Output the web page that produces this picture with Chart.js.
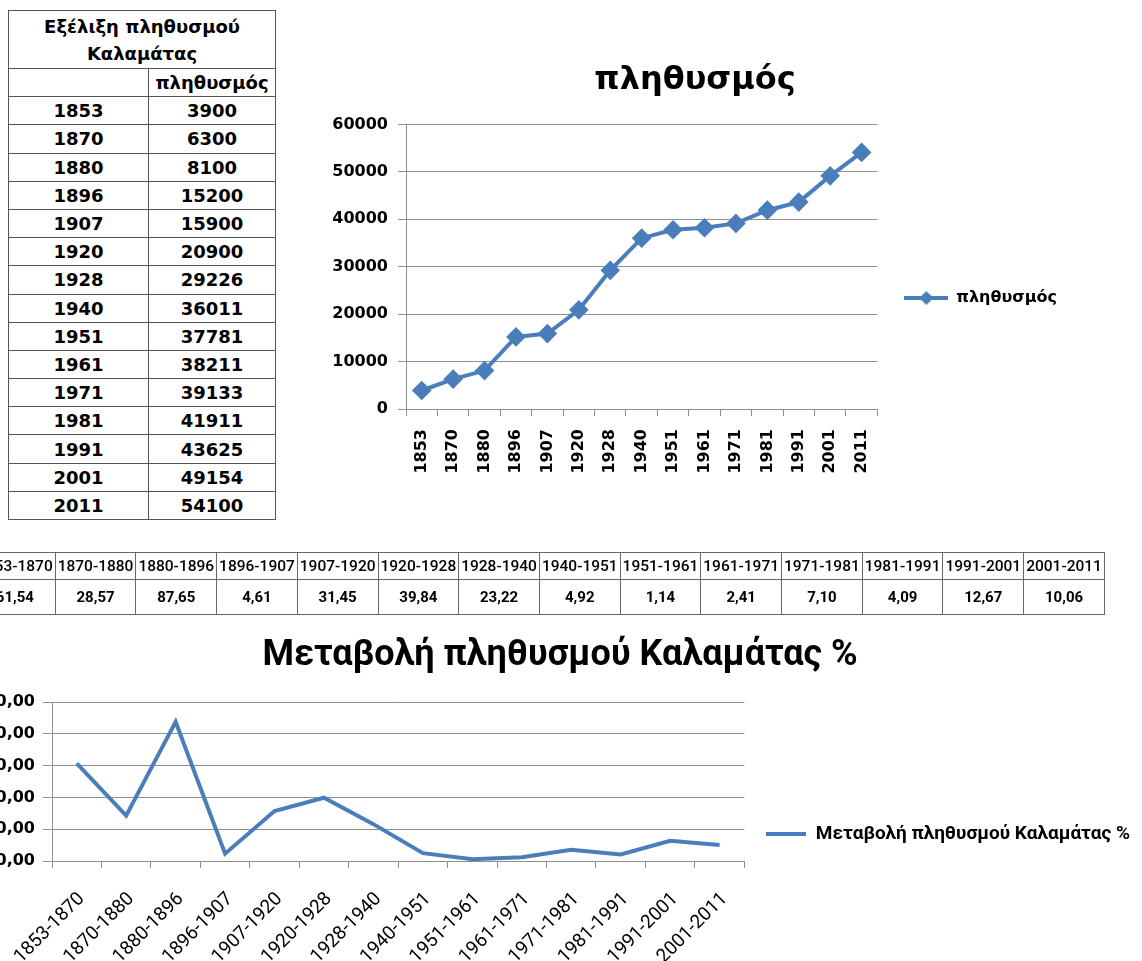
<!DOCTYPE html>
<html>
<head>
<meta charset="utf-8">
<script src="https://cdn.jsdelivr.net/npm/chart.js@4.4.0/dist/chart.umd.min.js"></script>
<style>
html, body { margin: 0; padding: 0; background: #fff; width: 1142px; height: 961px; overflow: hidden; }
canvas, table { position: absolute; }
#popTable { left: 8px; top: 10px; width: 267px; border-collapse: collapse; table-layout: fixed;
  font-family: 'DejaVu Sans'; font-weight: bold; font-size: 18px; color: #000; }
#popTable td { border: 1px solid #555; text-align: center; padding: 0; white-space: nowrap; }
#popTable tr { height: 28.2px; }
#popTable tr.head { height: 58px; }
#popTable tr.head td { font-size: 18px; line-height: 27px; white-space: normal; }
#changeTable { left: -26px; top: 552px; width: 1131px; border-collapse: collapse; table-layout: fixed;
  font-family: Roboto; color: #000; }
#changeTable td { border: 1px solid #666; text-align: center; padding: 0; white-space: nowrap; overflow: visible; }
#changeTable tr.per { height: 27px; font-size: 15.5px; font-weight: 500; }
#changeTable tr.val { height: 35px; font-size: 15px; font-weight: bold; }
#popChart { left: 323px; top: 40px; }
#changeChart { left: -20px; top: 615px; }
</style>
</head>
<body>
<table id="popTable"></table>
<canvas id="popChart" width="744" height="516"></canvas>
<table id="changeTable"></table>
<canvas id="changeChart" width="1160" height="438"></canvas>
<script>
// Kalamata population

var years = ['1853', '1870', '1880', '1896', '1907', '1920', '1928', '1940', '1951', '1961', '1971', '1981', '1991', '2001', '2011'];
var population = [3900, 6300, 8100, 15200, 15900, 20900, 29226, 36011, 37781, 38211, 39133, 41911, 43625, 49154, 54100];

var periods = ['1853-1870', '1870-1880', '1880-1896', '1896-1907', '1907-1920', '1920-1928', '1928-1940',
  '1940-1951', '1951-1961', '1961-1971', '1971-1981', '1981-1991', '1991-2001', '2001-2011'];
var changePct = [61.54, 28.57, 87.65, 4.61, 31.45, 39.84, 23.22, 4.92, 1.14, 2.41, 7.10, 4.09, 12.67, 10.06];

var popLabel = 'πληθυσμός';
var changeLabel = 'Μεταβολή πληθυσμού Καλαμάτας %';

var blue = '#4a7ebb';
var gridGrey = '#8e8e8e';

function comma(v) {
  return v.toFixed(2).replace('.', ',');
}

// tables
var t1 = '<colgroup><col style="width:140px"><col style="width:127px"></colgroup>';
t1 += '<tr class="head"><td colspan="2">Εξέλιξη πληθυσμού<br>Καλαμάτας</td></tr>';
t1 += '<tr><td></td><td>' + popLabel + '</td></tr>';
for (var i = 0; i < years.length; i++) {
  t1 += '<tr><td>' + years[i] + '</td><td>' + population[i] + '</td></tr>';
}
document.getElementById('popTable').innerHTML = t1;

var r1 = '<tr class="per">', r2 = '<tr class="val">';
for (var j = 0; j < periods.length; j++) {
  r1 += '<td>' + periods[j] + '</td>';
  r2 += '<td>' + comma(changePct[j]) + '</td>';
}
document.getElementById('changeTable').innerHTML = r1 + '</tr>' + r2 + '</tr>';

// legend symbols
function legendLine(w, diamond) {
  var c = document.createElement('canvas');
  c.width = w;
  c.height = 16;
  var g = c.getContext('2d');
  g.strokeStyle = blue;
  g.lineWidth = 4;
  g.beginPath();
  g.moveTo(0, 8);
  g.lineTo(w, 8);
  g.stroke();
  if (diamond) {
    g.fillStyle = blue;
    g.beginPath();
    g.moveTo(w / 2, 1);
    g.lineTo(w / 2 + 7, 8);
    g.lineTo(w / 2, 15);
    g.lineTo(w / 2 - 7, 8);
    g.closePath();
    g.fill();
  }
  return c;
}

Chart.defaults.font.family = 'DejaVu Sans';
Chart.defaults.color = '#000';

var ctx = document.getElementById('popChart').getContext('2d');
var chart = new Chart(ctx, {
  type: 'line',
  data: {
    labels: years,
    datasets: [{
      label: popLabel,
      data: population,
      borderColor: blue,
      backgroundColor: blue,
      borderWidth: 4,
      tension: 0,
      pointStyle: 'rectRot',
      pointRadius: 7,
      pointBackgroundColor: blue,
      pointBorderColor: blue
    }]
  },
  options: {
    responsive: false,
    animation: false,
    plugins: {
      title: {
        display: true,
        text: popLabel,
        font: { size: 32, weight: 'bold' },
        color: '#000',
        padding: { top: 21, bottom: 25 }
      },
      legend: {
        position: 'right',
        maxWidth: 400,
        labels: {
          usePointStyle: true,
          pointStyle: legendLine(44, true),
          pointStyleWidth: 44,
          padding: 27,
          font: { size: 16, weight: 'bold' },
          color: '#000'
        }
      },
      tooltip: { enabled: false }
    },
    scales: {
      x: {
        offset: true,
        grid: { offset: true, drawOnChartArea: false, tickLength: 7, color: gridGrey },
        border: { color: gridGrey },
        ticks: { minRotation: 90, maxRotation: 90, autoSkip: false, padding: 13, font: { size: 16, weight: 'bold' } },
        afterFit: function (s) { s.height = 147; }
      },
      y: {
        min: 0,
        max: 60000,
        grid: { color: gridGrey, tickLength: 8 },
        border: { color: gridGrey },
        ticks: { stepSize: 10000, padding: 10, font: { size: 16, weight: 'bold' },
          callback: function (v) { return String(v); } },
        afterFit: function (s) { s.width = 83; }
      }
    }
  }
});

var ctx2 = document.getElementById('changeChart').getContext('2d');
var chart2 = new Chart(ctx2, {
  type: 'line',
  data: {
    labels: periods,
    datasets: [{
      label: changeLabel,
      data: changePct,
      borderColor: blue,
      backgroundColor: blue,
      borderWidth: 4,
      tension: 0,
      pointRadius: 0
    }]
  },
  options: {
    responsive: false,
    animation: false,
    plugins: {
      title: {
        display: true,
        text: changeLabel,
        font: { family: 'Roboto', size: 36, weight: 'bold' },
        color: '#000',
        padding: { top: 19, bottom: 25 }
      },
      legend: {
        position: 'right',
        maxWidth: 600,
        labels: {
          usePointStyle: true,
          pointStyle: legendLine(40, false),
          pointStyleWidth: 40,
          padding: 22,
          font: { family: 'Roboto', size: 19, weight: 'bold' },
          color: '#000'
        }
      },
      tooltip: { enabled: false }
    },
    scales: {
      x: {
        offset: true,
        grid: { offset: true, drawOnChartArea: false, tickLength: 7, color: gridGrey },
        border: { color: gridGrey },
        ticks: { minRotation: 45, maxRotation: 45, autoSkip: false, padding: 20, labelOffset: 5,
          font: { family: 'Roboto', size: 19 } },
        afterFit: function (s) { s.height = 192; }
      },
      y: {
        min: 0,
        max: 100,
        grid: { color: gridGrey, tickLength: 9 },
        border: { color: gridGrey },
        ticks: { stepSize: 20, padding: 8, font: { size: 16, weight: 'bold' },
          callback: function (v) { return comma(v); } },
        afterFit: function (s) { s.width = 72; }
      }
    }
  }
});
</script>
</body>
</html>
